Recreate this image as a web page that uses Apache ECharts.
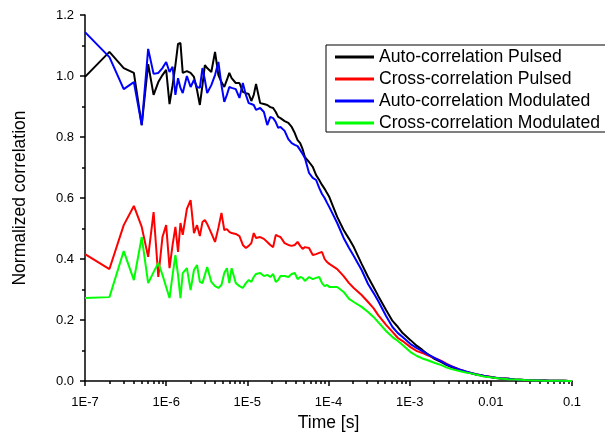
<!DOCTYPE html>
<html>
<head>
<meta charset="utf-8">
<script src="https://cdn.jsdelivr.net/npm/echarts@6/dist/echarts.min.js"></script>
<style>
html, body { margin: 0; padding: 0; background: #fff; }
#chart { width: 605px; height: 438px; }
</style>
</head>
<body>
<div id="chart"></div>
<script>
// lag times [s]
var time = [
    1e-7, 2e-7, 3e-7, 4e-7, 5e-7, 6e-7, 7e-7, 8e-7, 9e-7, 1.0e-6, 1.1e-6, 1.2e-6, 1.3e-6, 1.4e-6, 1.5e-6, 1.6e-6,
    1.8e-6, 2.0e-6, 2.2e-6, 2.4e-6, 2.6e-6, 2.8e-6, 3.0e-6, 3.2e-6,
    3.6e-6, 4.0e-6, 4.4e-6, 4.8e-6, 5.2e-6, 5.6e-6, 6.0e-6, 6.4e-6,
    7.2e-6, 8.0e-6, 8.8e-6, 9.6e-6, 1.04e-5, 1.12e-5, 1.2e-5, 1.28e-5,
    1.44e-5, 1.6e-5, 1.76e-5, 1.92e-5, 2.08e-5, 2.24e-5, 2.4e-5, 2.56e-5,
    2.88e-5, 3.2e-5, 3.52e-5, 3.84e-5, 4.16e-5, 4.48e-5, 4.8e-5, 5.12e-5,
    5.76e-5, 6.4e-5, 7.04e-5, 7.68e-5, 8.32e-5, 8.96e-5, 9.6e-5, 1.024e-4,
    1.28e-4, 1.536e-4, 1.792e-4, 2.048e-4, 2.56e-4, 3.072e-4, 3.584e-4, 4.096e-4,
    5.12e-4, 6.144e-4, 7.168e-4, 8.192e-4, 1.024e-3, 1.229e-3, 1.434e-3, 1.638e-3,
    2.048e-3, 2.458e-3, 2.867e-3, 3.277e-3,
    4.096e-3, 4.915e-3, 5.734e-3, 6.554e-3, 8.192e-3, 9.830e-3, 1.147e-2, 1.311e-2,
    1.638e-2, 1.966e-2, 2.294e-2, 2.621e-2, 3.277e-2, 3.932e-2, 4.588e-2, 5.243e-2,
    6.554e-2, 7.864e-2, 9.175e-2, 1.0e-1
];

var autoPulsed = [
    0.997, 1.079, 1.026, 1.010, 0.839, 1.039, 0.938, 0.980, 1.003, 1.020, 0.908, 0.970, 1.036, 1.105, 1.108, 1.010,
    1.016, 1.010, 0.997, 0.954, 0.905, 0.970, 1.036, 1.026,
    1.013, 1.079, 1.003, 0.980, 0.964, 0.987, 1.010, 0.993,
    0.977, 0.977, 0.948, 0.944, 0.941, 0.918, 0.938, 0.974,
    0.911, 0.908, 0.905, 0.898, 0.895, 0.882, 0.866, 0.862,
    0.852, 0.846, 0.833, 0.813, 0.790, 0.780, 0.760, 0.734,
    0.718, 0.702, 0.675, 0.659, 0.643, 0.630, 0.616, 0.603,
    0.538, 0.495, 0.466, 0.439, 0.384, 0.341, 0.308, 0.279,
    0.233, 0.197, 0.177, 0.157, 0.134, 0.115, 0.102, 0.089,
    0.072, 0.062, 0.052, 0.046,
    0.036, 0.030, 0.025, 0.021, 0.016, 0.013, 0.010, 0.008,
    0.007, 0.005, 0.004, 0.003, 0.002, 0.002, 0.002, 0.001,
    0.001, 0.001, 0.000, 0.000
];

var crossPulsed = [
    0.416, 0.367, 0.511, 0.574, 0.505, 0.407, 0.554, 0.341, 0.472, 0.511, 0.370, 0.446, 0.505, 0.423, 0.518, 0.479,
    0.564, 0.593, 0.485, 0.511, 0.475, 0.521, 0.528, 0.515,
    0.485, 0.456, 0.502, 0.551, 0.495, 0.498, 0.489, 0.485,
    0.482, 0.475, 0.446, 0.436, 0.443, 0.452, 0.485, 0.469,
    0.472, 0.466, 0.456, 0.446, 0.439, 0.479, 0.475, 0.472,
    0.452, 0.446, 0.443, 0.446, 0.456, 0.443, 0.433, 0.439,
    0.436, 0.413, 0.416, 0.420, 0.423, 0.400, 0.390, 0.384,
    0.367, 0.344, 0.321, 0.305, 0.282, 0.259, 0.239, 0.216,
    0.184, 0.161, 0.141, 0.131, 0.111, 0.098, 0.092, 0.085,
    0.075, 0.066, 0.056, 0.049,
    0.038, 0.031, 0.026, 0.022, 0.017, 0.014, 0.011, 0.009,
    0.007, 0.005, 0.004, 0.003, 0.002, 0.002, 0.002, 0.001,
    0.001, 0.001, 0.000, 0.000
];

var autoModulated = [
    1.144, 1.062, 0.957, 0.980, 0.839, 1.089, 1.007, 1.010, 1.026, 1.046, 1.013, 1.030, 0.938, 0.993, 0.961, 0.944,
    1.000, 0.964, 0.987, 0.964, 0.961, 1.026, 0.987, 0.944,
    0.970, 1.003, 1.046, 0.970, 0.915, 0.938, 0.964, 0.961,
    0.957, 0.928, 0.977, 0.938, 0.911, 0.908, 0.905, 0.889,
    0.895, 0.882, 0.839, 0.866, 0.862, 0.849, 0.830, 0.833,
    0.820, 0.793, 0.780, 0.774, 0.770, 0.757, 0.744, 0.731,
    0.682, 0.666, 0.659, 0.633, 0.613, 0.600, 0.584, 0.570,
    0.518, 0.469, 0.436, 0.410, 0.364, 0.318, 0.289, 0.262,
    0.213, 0.177, 0.157, 0.144, 0.121, 0.108, 0.098, 0.089,
    0.075, 0.064, 0.054, 0.048,
    0.038, 0.031, 0.026, 0.022, 0.017, 0.013, 0.011, 0.009,
    0.007, 0.005, 0.004, 0.003, 0.002, 0.002, 0.002, 0.001,
    0.001, 0.001, 0.000, 0.000
];

var crossModulated = [
    0.272, 0.275, 0.426, 0.331, 0.472, 0.321, 0.357, 0.387, 0.348, 0.308, 0.272, 0.348, 0.413, 0.348, 0.272, 0.354,
    0.370, 0.298, 0.364, 0.380, 0.325, 0.321, 0.348, 0.374,
    0.325, 0.311, 0.305, 0.315, 0.354, 0.370, 0.321, 0.370,
    0.321, 0.311, 0.305, 0.321, 0.331, 0.325, 0.341, 0.351,
    0.354, 0.344, 0.348, 0.341, 0.351, 0.325, 0.331, 0.344,
    0.344, 0.341, 0.351, 0.354, 0.334, 0.341, 0.338, 0.328,
    0.341, 0.334, 0.338, 0.341, 0.321, 0.311, 0.315, 0.308,
    0.308, 0.292, 0.269, 0.259, 0.243, 0.226, 0.210, 0.193,
    0.164, 0.144, 0.131, 0.118, 0.095, 0.082, 0.074, 0.069,
    0.059, 0.052, 0.044, 0.039,
    0.033, 0.028, 0.025, 0.021, 0.015, 0.012, 0.010, 0.008,
    0.006, 0.005, 0.004, 0.003, 0.002, 0.002, 0.001, 0.001,
    0.001, 0.001, 0.000, 0.000
];

var seriesNames = ['Auto-correlation Pulsed', 'Cross-correlation Pulsed', 'Auto-correlation Modulated', 'Cross-correlation Modulated'];
var seriesColors = ['#000000', '#ff0000', '#0000ff', '#00ff00'];
var seriesValues = [autoPulsed, crossPulsed, autoModulated, crossModulated];

var FONT = 'Liberation Sans, Arial, sans-serif';

// minor ticks 2..9 inside each decade (drawn on a hidden linear axis in log10 units)
var minorTicks = [];
for (var d = -7; d < -1; d++) {
    for (var m = 2; m <= 9; m++) {
        minorTicks.push(d + Math.log10(m));
    }
}

function pairs(values) {
    return time.map(function (t, i) {
        return [t, values[i]];
    });
}

var axisLineStyle = { color: '#000', width: 1.5 };

var chart = echarts.init(document.getElementById('chart'), null, { renderer: 'canvas' });

var option = {
    animation: false,
    backgroundColor: '#fff',
    textStyle: { fontFamily: FONT },
    grid: { left: 85, right: 33, top: 15, bottom: 57, containLabel: false },
    legend: {
        orient: 'vertical',
        left: 326,
        top: 45,
        icon: 'rect',
        itemWidth: 39,
        itemHeight: 3,
        itemGap: 4,
        padding: [3, 30, 0, 9],
        borderColor: '#000',
        borderWidth: 1,
        backgroundColor: '#fff',
        textStyle: { fontSize: 17.6, color: '#000', fontFamily: FONT },
        data: seriesNames
    },
    xAxis: [{
        type: 'log',
        logBase: 10,
        min: 1e-7,
        max: 0.1,
        position: 'bottom',
        name: 'Time [s]',
        nameLocation: 'middle',
        nameGap: 32,
        nameTextStyle: { fontSize: 17.5, color: '#000', fontFamily: FONT },
        axisLine: { show: true, lineStyle: axisLineStyle },
        axisTick: { show: true, length: 5, lineStyle: axisLineStyle },
        axisLabel: {
            color: '#000',
            fontSize: 13,
            fontFamily: FONT,
            margin: 15,
            showMinLabel: true,
            showMaxLabel: true,
            formatter: function (v) {
                var e = Math.round(Math.log10(v));
                if (e === -2) return '0.01';
                if (e === -1) return '0.1';
                return '1E' + e;
            }
        },
        splitLine: { show: false }
    }, {
        type: 'value',
        min: -7,
        max: -1,
        position: 'bottom',
        axisLine: { show: false },
        axisLabel: { show: false },
        axisTick: { show: true, length: 3, customValues: minorTicks, lineStyle: axisLineStyle },
        splitLine: { show: false }
    }],
    yAxis: {
        type: 'value',
        min: 0,
        max: 1.2,
        interval: 0.2,
        name: 'Normalized correlation',
        nameLocation: 'middle',
        nameGap: 56,
        nameTextStyle: { fontSize: 17.5, color: '#000', fontFamily: FONT },
        axisLine: { show: true, lineStyle: axisLineStyle },
        axisTick: { show: true, length: 5, lineStyle: axisLineStyle },
        minorTick: { show: true, splitNumber: 2, length: 3, lineStyle: axisLineStyle },
        axisLabel: {
            color: '#000',
            fontSize: 13,
            fontFamily: FONT,
            margin: 11,
            formatter: function (v) { return v.toFixed(1); }
        },
        splitLine: { show: false }
    },
    series: seriesNames.map(function (name, i) {
        return {
            name: name,
            type: 'line',
            xAxisIndex: 0,
            data: pairs(seriesValues[i]),
            showSymbol: false,
            symbol: 'none',
            color: seriesColors[i],
            lineStyle: { color: seriesColors[i], width: 2 },
            z: 2 + i
        };
    })
};

chart.setOption(option);
</script>
</body>
</html>
